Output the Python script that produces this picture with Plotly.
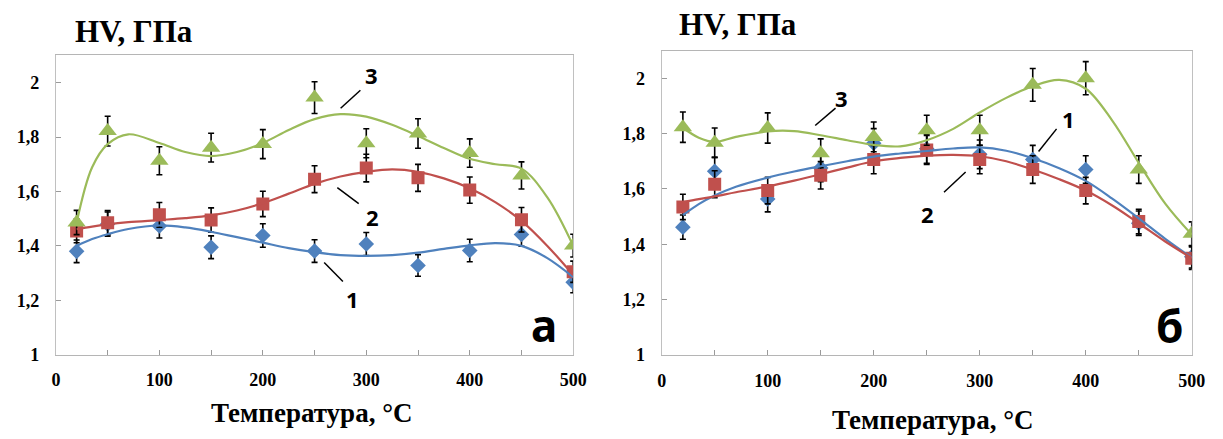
import plotly.graph_objects as go

W, H = 1223, 439

# ---------------- data ----------------
temps = [20, 50, 100, 150, 200, 250, 300, 350, 400, 450, 500]

# panel "а"
hv_a1 = [1.38, 1.48, 1.473, 1.395, 1.438, 1.381, 1.407, 1.328, 1.383, 1.442, 1.266]
hv_a2 = [1.455, 1.485, 1.514, 1.495, 1.554, 1.645, 1.686, 1.650, 1.605, 1.496, 1.305]
hv_a3 = [1.486, 1.822, 1.713, 1.761, 1.774, 1.945, 1.777, 1.813, 1.741, 1.659, 1.401]

# panel "б"
hv_b1 = [1.462, 1.664, 1.564, 1.676, 1.765, 1.745, 1.725, 1.706, 1.670, 1.476, 1.355]
hv_b2 = [1.535, 1.617, 1.594, 1.649, 1.706, 1.741, 1.706, 1.670, 1.594, 1.482, 1.350]
hv_b3 = [1.823, 1.767, 1.820, 1.729, 1.788, 1.812, 1.812, 1.976, 2.000, 1.670, 1.438]

# trend curves
trend_t = [20, 35, 50, 70, 100, 125, 150, 175, 200, 225, 250, 275, 300, 325, 350, 375, 400, 425, 450, 475, 500]
trend_a1 = [1.400, 1.425, 1.443, 1.462, 1.475, 1.468, 1.452, 1.432, 1.412, 1.392, 1.377, 1.366, 1.363, 1.366, 1.375, 1.389, 1.402, 1.410, 1.400, 1.355, 1.285]
trend_a2 = [1.461, 1.471, 1.479, 1.487, 1.495, 1.502, 1.512, 1.530, 1.557, 1.592, 1.628, 1.655, 1.672, 1.681, 1.672, 1.648, 1.612, 1.560, 1.492, 1.400, 1.293]
trend_a3 = [1.485, 1.689, 1.774, 1.810, 1.778, 1.745, 1.730, 1.745, 1.778, 1.826, 1.866, 1.884, 1.875, 1.845, 1.804, 1.760, 1.720, 1.700, 1.684, 1.578, 1.400]
trend_b1 = [1.505, 1.545, 1.576, 1.608, 1.641, 1.663, 1.682, 1.700, 1.717, 1.728, 1.737, 1.746, 1.750, 1.738, 1.711, 1.675, 1.629, 1.565, 1.494, 1.420, 1.352]
trend_b2 = [1.552, 1.563, 1.573, 1.588, 1.609, 1.630, 1.653, 1.677, 1.700, 1.712, 1.720, 1.723, 1.718, 1.700, 1.670, 1.635, 1.594, 1.540, 1.476, 1.410, 1.350]
trend_b3 = [1.821, 1.785, 1.770, 1.788, 1.808, 1.809, 1.794, 1.776, 1.759, 1.754, 1.776, 1.817, 1.876, 1.929, 1.971, 1.994, 1.962, 1.847, 1.694, 1.547, 1.435]

err_percent = 3

y_ticks = [1, 1.2, 1.4, 1.6, 1.8, 2]
y_ticklabels = ["1", "1,2", "1,4", "1,6", "1,8", "2"]
x_ticks = [0, 100, 200, 300, 400, 500]
x_ticklabels = ["0", "100", "200", "300", "400", "500"]

y_title = "HV, ГПа"
x_title = "Температура, °С"
panel_labels = ["а", "б"]

BLUE = "#4F81BD"
RED = "#C0504D"
GREEN = "#9BBB59"


def px(x):
    return x / W


def py(y):
    return 1 - y / H


def b(s):
    return "<b>" + s + "</b>"


fig = go.Figure()

panels = [
    ("x", "y", [hv_a1, hv_a2, hv_a3], [trend_a1, trend_a2, trend_a3]),
    ("x2", "y2", [hv_b1, hv_b2, hv_b3], [trend_b1, trend_b2, trend_b3]),
]
marker_syms = ["diamond", "square", "triangle-up"]
marker_sizes = [12, 13, 16]
colors = [BLUE, RED, GREEN]

for xa, ya, series, trends in panels:
    for vals, sym, sz, col in zip(series, marker_syms, marker_sizes, colors):
        fig.add_trace(go.Scatter(
            x=temps, y=vals, xaxis=xa, yaxis=ya, mode="markers",
            marker=dict(symbol=sym, size=sz, color=col),
            error_y=dict(type="percent", value=err_percent, color="black",
                         thickness=1.6, width=3),
            showlegend=False, hoverinfo="skip"))
    for tr, col in zip(trends, colors):
        fig.add_trace(go.Scatter(
            x=trend_t, y=tr, xaxis=xa, yaxis=ya, mode="lines",
            line=dict(color=col, width=2.2, shape="spline", smoothing=1.0),
            showlegend=False, hoverinfo="skip"))

SERIF = "Liberation Serif, Times New Roman, serif"
tickfont = dict(family=SERIF, size=18, color="black")

common_x = dict(range=[0, 500], tickvals=x_ticks, ticktext=[b(t) for t in x_ticklabels],
                ticks="inside", ticklen=5,
                tickcolor="#9a9a9a", showline=True, mirror=True, linecolor="#b5b5b5",
                linewidth=1, showgrid=False, zeroline=False, tickfont=tickfont,
                ticklabelstandoff=9,
                minor=dict(dtick=50, ticks="inside", ticklen=5, tickcolor="#9a9a9a",
                           showgrid=False))
common_y = dict(range=[1, 2.1], tickvals=y_ticks, ticktext=[b(t) for t in y_ticklabels],
                ticks="inside",
                ticklen=5, tickcolor="#9a9a9a", showline=True, mirror=True,
                linecolor="#c0c0c0", linewidth=1, showgrid=False, zeroline=False,
                tickfont=tickfont, ticklabelstandoff=12)

fig.update_layout(
    width=W, height=H, margin=dict(l=0, r=0, t=0, b=0),
    paper_bgcolor="white", plot_bgcolor="white",
    xaxis=dict(domain=[px(52.7), px(577.7)], anchor="y", **common_x),
    yaxis=dict(domain=[py(363), py(56.7)], anchor="x", **common_y),
    xaxis2=dict(domain=[px(667.5), px(1205.5)], anchor="y2", **common_x),
    yaxis2=dict(domain=[py(363.3), py(51.7)], anchor="x2", **common_y),
)

title_font = dict(family=SERIF, size=31, color="black")
axis_title_font = dict(family=SERIF, size=27, color="black")
num_font = dict(family="Noto Sans", size=22, color="black")
panel_font = dict(family="Noto Sans", size=44, color="black")

annotations = [
    dict(text=b(y_title), x=px(70), y=py(32), xref="paper", yref="paper",
         xanchor="left", yanchor="middle", showarrow=False, font=title_font),
    dict(text=b(y_title), x=px(683), y=py(25), xref="paper", yref="paper",
         xanchor="left", yanchor="middle", showarrow=False, font=title_font),
    dict(text=b(x_title), x=px(312.5), y=py(423), xref="paper", yref="paper",
         xanchor="center", yanchor="middle", showarrow=False, font=axis_title_font),
    dict(text=b(x_title), x=px(942), y=py(430), xref="paper", yref="paper",
         xanchor="center", yanchor="middle", showarrow=False, font=axis_title_font),
    # curve numbers, panel а
    dict(text=b("3"), x=305, y=2.027, xref="x", yref="y", showarrow=False, font=num_font),
    dict(text=b("2"), x=306, y=1.505, xref="x", yref="y", showarrow=False, font=num_font),
    dict(text=b("1"), x=287, y=1.203, xref="x", yref="y", showarrow=False, font=num_font),
    dict(text=b(panel_labels[0]), x=471.7, y=1.108, xref="x", yref="y", showarrow=False,
         font=panel_font),
    # curve numbers, panel б
    dict(text=b("3"), x=169.6, y=1.929, xref="x2", yref="y2", showarrow=False, font=num_font),
    dict(text=b("1"), x=383.4, y=1.853, xref="x2", yref="y2", showarrow=False, font=num_font),
    dict(text=b("2"), x=250.7, y=1.511, xref="x2", yref="y2", showarrow=False, font=num_font),
    dict(text=b(panel_labels[1]), x=479, y=1.106, xref="x2", yref="y2", showarrow=False,
         font=panel_font),
]
fig.update_layout(annotations=annotations)

leaders = [
    ("x", "y", 294.3, 1.972, 275.2, 1.906),
    ("x", "y", 272.0, 1.614, 292.7, 1.555),
    ("x", "y", 259.3, 1.339, 277.4, 1.269),
    ("x2", "y2", 164.0, 1.892, 144.8, 1.829),
    ("x2", "y2", 372.5, 1.817, 355.5, 1.735),
    ("x2", "y2", 286.7, 1.661, 266.3, 1.588),
]
for xr, yr, x0, y0, x1, y1 in leaders:
    fig.add_shape(type="line", xref=xr, yref=yr, x0=x0, y0=y0, x1=x1, y1=y1,
                  line=dict(color="black", width=1.5))

fig.write_html("out.html")
